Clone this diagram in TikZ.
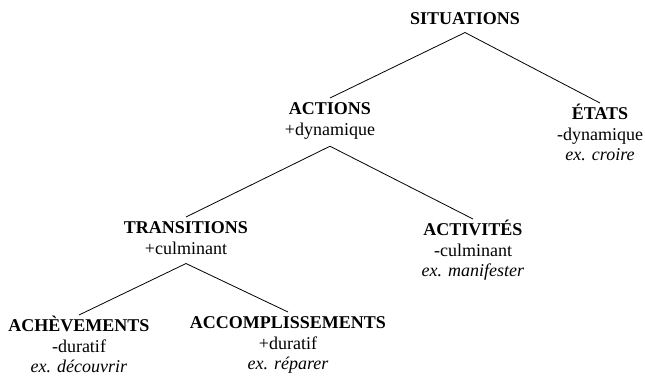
\documentclass[tikz,border=0pt]{standalone}
\usepackage{fontspec}
\setmainfont{LiberationSerif}[Extension=.ttf,UprightFont=*-Regular,BoldFont=*-Bold,ItalicFont=*-Italic,BoldItalicFont=*-BoldItalic]
\begin{document}
\begin{tikzpicture}[x=1pt,y=-1pt,
  cat/.style={anchor=north,align=center,inner xsep=0pt,inner ysep=1pt,
    font=\fontsize{18}{20.5}\selectfont},
  branch/.style={line width=0.8pt}]
\useasboundingbox (0,0) rectangle (645,377);
\node[cat] (sit) at (465,7.5) {\vphantom{É}\textbf{SITUATIONS}};
\node[cat] (act) at (330,98) {\vphantom{É}\textbf{ACTIONS}\\+dynamique};
\node[cat] (eta) at (600,103) {\vphantom{É}\textbf{ÉTATS}\\-dynamique\\\textit{ex. croire}};
\node[cat] (tra) at (186,217) {\vphantom{É}\textbf{TRANSITIONS}\\+culminant};
\node[cat] (acv) at (473,219) {\vphantom{É}\textbf{ACTIVITÉS}\\-culminant\\\textit{ex. manifester}};
\node[cat] (ach) at (79,315) {\vphantom{É}\textbf{ACHÈVEMENTS}\\-duratif\\\textit{ex. découvrir}};
\node[cat] (acc) at (288,312) {\vphantom{É}\textbf{ACCOMPLISSEMENTS}\\+duratif\\\textit{ex. réparer}};
\draw[branch] (act.north) -- ([yshift=-7pt]sit.south) -- (eta.north);
\draw[branch] (tra.north) -- ([yshift=-6pt]act.south) -- (acv.north);
\draw[branch] (ach.north) -- ([yshift=-8pt]tra.south) -- (acc.north);
\end{tikzpicture}
\end{document}
